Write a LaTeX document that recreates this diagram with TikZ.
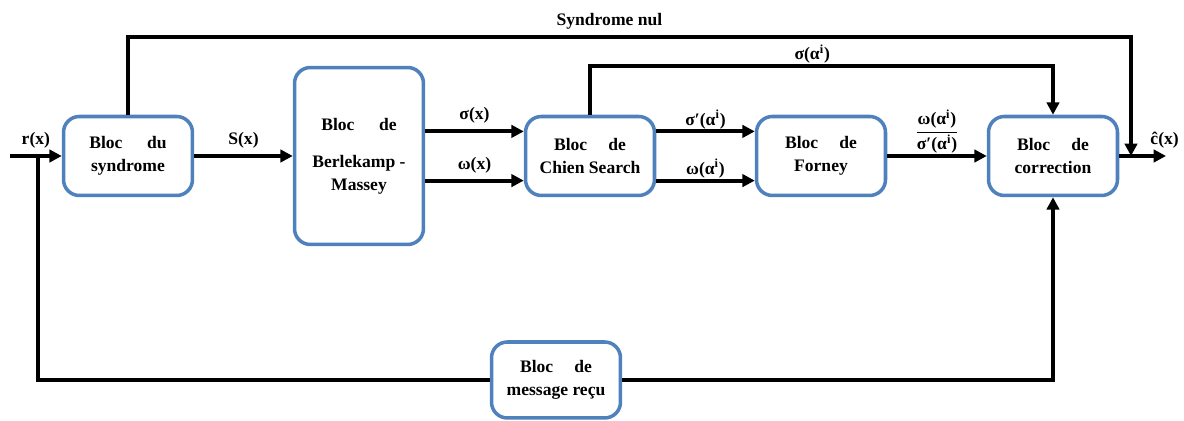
\documentclass[tikz,border=0pt]{standalone}
\usepackage{amsmath}
\usepackage{fontspec}
\setmainfont{Liberation Serif}
\usetikzlibrary{arrows.meta}
\definecolor{blocblue}{RGB}{79,129,189}
\tikzset{
  bloc/.style={draw=blocblue, line width=2pt, rounded corners=9pt, fill=white, align=center,
    minimum width=2.58cm, minimum height=1.58cm, font=\bfseries\fontsize{10}{13}\selectfont},
  fleche/.style={line width=2.2pt, -{Triangle[length=7pt,width=7pt]}},
  ligne/.style={line width=2.2pt},
  lab/.style={font=\bfseries\fontsize{10}{12}\selectfont},
  labexp/.style={lab, yshift=-3pt}
}

\begin{document}
\begin{tikzpicture}[x=0.02cm,y=-0.02cm]
    \useasboundingbox (0,0) rectangle (1184,421);
    % blocs
    \node[bloc] (syn) at (128,156) {Bloc\hspace{14pt}du\\syndrome};
    \node[bloc, minimum height=3.54cm] (bm) at (359,156) {Bloc\hspace{14pt}de\\[8pt]Berlekamp -\\Massey};
    \node[bloc] (chien) at (590,156) {Bloc\hspace{12pt}de\\Chien Search};
    \node[bloc] (forney) at (821,156) {Bloc\hspace{12pt}de\\Forney};
    \node[bloc] (corr) at (1053,156) {Bloc\hspace{12pt}de\\correction};
    \node[bloc, minimum height=1.52cm] (msg) at (556,380) {Bloc\hspace{12pt}de\\message reçu};
    \coordinate (in) at (10,156);
    \coordinate (fb) at (38,156);
    \coordinate (top) at (1131,37);
    \coordinate (jn) at (1131,156);
    \coordinate (out) at (1166,156);
    % liaisons
    \draw[fleche] (in) -- (syn.west) node[midway,above,lab]{r(x)};
    \draw[fleche] (syn.east) -- (bm.west) node[midway,above,lab]{S(x)};
    \draw[fleche] ([yshift=14pt]bm.east) -- ([yshift=14pt]chien.west) node[midway,above,lab]{σ(x)};
    \draw[fleche] ([yshift=-14pt]bm.east) -- ([yshift=-14pt]chien.west) node[midway,above,lab]{ω(x)};
    \draw[fleche] ([yshift=14pt]chien.east) -- ([yshift=14pt]forney.west) node[midway,above,labexp]{σ′(α\textsuperscript{i})};
    \draw[fleche] ([yshift=-14pt]chien.east) -- ([yshift=-14pt]forney.west) node[midway,above,labexp]{ω(α\textsuperscript{i})};
    \draw[fleche] (forney.east) -- (corr.west)
        node[midway,above,labexp]{$\dfrac{\text{\bfseries ω(α\textsuperscript{i})}}{\text{\bfseries σ′(α\textsuperscript{i})}}$};
    \draw[fleche] (corr.east) -- (out) node[pos=0.97,above,lab]{ĉ(x)};
    \draw[fleche] (chien.north) -- ++(0,-49) -| (corr.north) node[pos=0.24,above,labexp]{σ(α\textsuperscript{i})};
    \draw[fleche] (syn.north) |- (top) node[pos=0.74,above,lab]{Syndrome nul} -- (jn);
    \draw[ligne] (msg.west) -| (fb);
    \draw[fleche] (msg.east) -| (corr.south);
\end{tikzpicture}
\end{document}
